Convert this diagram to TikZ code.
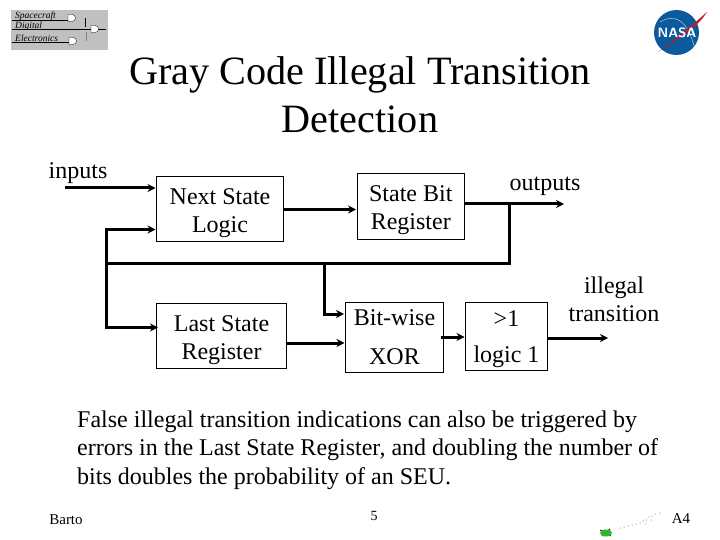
\documentclass[tikz,border=0pt]{standalone}
\usepackage{fontspec}
\setmainfont{Liberation Serif}
\usetikzlibrary{arrows.meta, positioning}
\definecolor{logogrey}{HTML}{C0C0C0}
\definecolor{nasablue}{HTML}{0B5A9E}
\definecolor{nasared}{HTML}{B5202E}
\definecolor{turtlegreen}{HTML}{2FB52F}
\newcommand{\lowline}{\rule{0pt}{24pt}}
\tikzstyle{block} = [
	rectangle,
	inner sep=0pt,
	outer sep=0pt,
	align=center,
	draw=black,
	line width=0.9pt,
	font=\fontsize{24}{28.3}\selectfont
]
\tikzstyle{label} = [
	inner sep=0pt,
	align=center,
	font=\fontsize{24}{28.3}\selectfont
]
\tikzstyle{arrow} = [line width=3pt,-{Stealth[length=8pt,width=8pt]},shorten >=1pt]
\tikzstyle{bus} = [line width=3pt]
\tikzstyle{logotext} = [inner sep=0pt, anchor=west, font=\fontsize{9.5}{10}\selectfont\itshape]
\tikzstyle{logoline} = [line width=0.7pt]
\tikzstyle{gate} = [fill=white, draw=black, line width=0.3pt]

\begin{document}
\begin{tikzpicture}[x=1pt, y=-1pt]
	\useasboundingbox [fill=white] (0,0) rectangle (720,540);

	% title and body
	\node (title) [inner sep=0pt, align=center, font=\fontsize{40.2}{48}\selectfont] at (360,95) {Gray Code Illegal Transition\\Detection};
	\node (body) [inner sep=0pt, anchor=west, align=left, font=\fontsize{24}{28.3}\selectfont] at (77,450) {False illegal transition indications can also be triggered by\\errors in the Last State Register, and doubling the number of\\bits doubles the probability of an SEU.};
	\node (barto) [inner sep=0pt, font=\fontsize{15}{16}\selectfont] at (66,520) {Barto};
	\node (pagenum) [inner sep=0pt, font=\fontsize{14}{16}\selectfont] at (374,516) {5};
	\node (slide) [inner sep=0pt, font=\fontsize{15}{16}\selectfont] at (681,519) {A4};

	% blocks
	\node (nextlogic) [block, minimum width=127pt, minimum height=64.5pt] at (220,208.75) {\lowline Next State\\Logic};
	\node (lastreg) [block, minimum width=130pt, minimum height=65.5pt, below=62pt of nextlogic.south, anchor=north, xshift=1.5pt] {\lowline Last State\\Register};
	\node (statebit) [block, minimum width=107.5pt, minimum height=65.5pt, right=73.5pt of nextlogic.east, yshift=2.5pt] {\lowline State Bit\\Register};
	\node (xorgate) [block, minimum width=98pt, minimum height=70.5pt, right=59pt of lastreg.east, yshift=-1.5pt] {Bit-wise\\[10pt]XOR};
	\node (logicone) [block, minimum width=82pt, minimum height=68.5pt, right=22pt of xorgate.east, yshift=1pt] {\rule{0pt}{21pt}>1\\[8pt]logic 1};

	% free labels and line ends
	\node (inputs) [label] at (78,173) {inputs};
	\node (outputs) [label] at (545,186) {outputs};
	\node (illegal) [label] at (614,299.5) {illegal\\transition};
	\coordinate (instart) at (65,188);
	\coordinate (outend) at (565,204);
	\coordinate (illegalend) at (609,338);
	\coordinate (fbtop) at (106.5,229.5);
	\coordinate (fbbot) at (106.5,327.5);
	\coordinate (busleft) at (106.5,263.5);
	\coordinate (busright) at (509,263.5);
	\coordinate (busup) at (509,204);
	\coordinate (tapdown) at (324.5,263.5);
	\coordinate (tapend) at (345,314);

	% connectors
	\draw [arrow] (instart) -- (nextlogic.west |- instart);
	\draw [arrow] (nextlogic.east |- 0,209.5) -- (statebit.west |- 0,209.5);
	\draw [arrow] (statebit.east |- outend) -- (outend);
	\draw [bus, line cap=rect] (fbtop) -- (fbbot);
	\draw [arrow] (fbtop) -- (nextlogic.west |- fbtop);
	\draw [arrow] (fbbot) -- (159,327.5);
	\draw [bus] (busleft) -- (busright) -- (busup);
	\draw [arrow] (tapdown) |- (tapend);
	\draw [arrow] (lastreg.east |- 0,343) -- (xorgate.west |- 0,343);
	\draw [arrow] (441,337) -- (logicone.west |- 0,337);
	\draw [arrow] (logicone.east |- illegalend) -- (illegalend);

	% spacecraft logo
	\fill [logogrey] (11,10) rectangle (108,50);
	\node (logoa) [logotext] at (15,16.5) {Spacecraft};
	\node (logob) [logotext] at (15,26.5) {Digital};
	\node (logoc) [logotext] at (15,38) {Electronics};
	\draw [logoline] (12,20.5) -- (70,20.5);
	\draw [logoline] (12,29) -- (106,29);
	\draw [logoline] (12,42) -- (70,42);
	\draw [logoline] (85,18) -- (85,27);
	\draw [logoline, gray] (86,32) -- (86,41);
	\foreach \gx/\gy in {68/18, 91/29, 69/41} {
		\draw [gate] (\gx,\gy-3.5) -- ++(4,0) arc (-90:90:3.5) -- ++(-4,0) -- cycle;
	}

	% nasa logo
	\fill [nasablue] (676.5,32.5) circle (22.5);
	\draw [white, line width=0.3pt] (660,22) .. controls (680,10) and (690,30) .. (694,46);
	\fill [nasared] (658,52) .. controls (675,40) and (690,27) .. (707,12) .. controls (697,28) and (680,38) .. (658,52);
	\node (nasa) [inner sep=0pt, white, font=\fontsize{13.5}{14}\selectfont\sffamily\bfseries] at (677,33) {NASA};

	% turtle and its trail
	\foreach \dx/\dy in {620/528, 624/527, 628/526, 632/525, 636/524, 640/523, 643/521, 646/520, 649/517, 652/516, 655/514, 660/513, 645/524, 651/520} {
		\fill [black!70] (\dx,\dy) circle (0.5);
	}
	\draw [black, line width=0.8pt] (600,530) -- (611,536);
	\draw [black, line width=0.8pt] (602,536) -- (610,529);
	\fill [turtlegreen] (606,533) ellipse (6 and 3.5);
\end{tikzpicture}
\end{document}
